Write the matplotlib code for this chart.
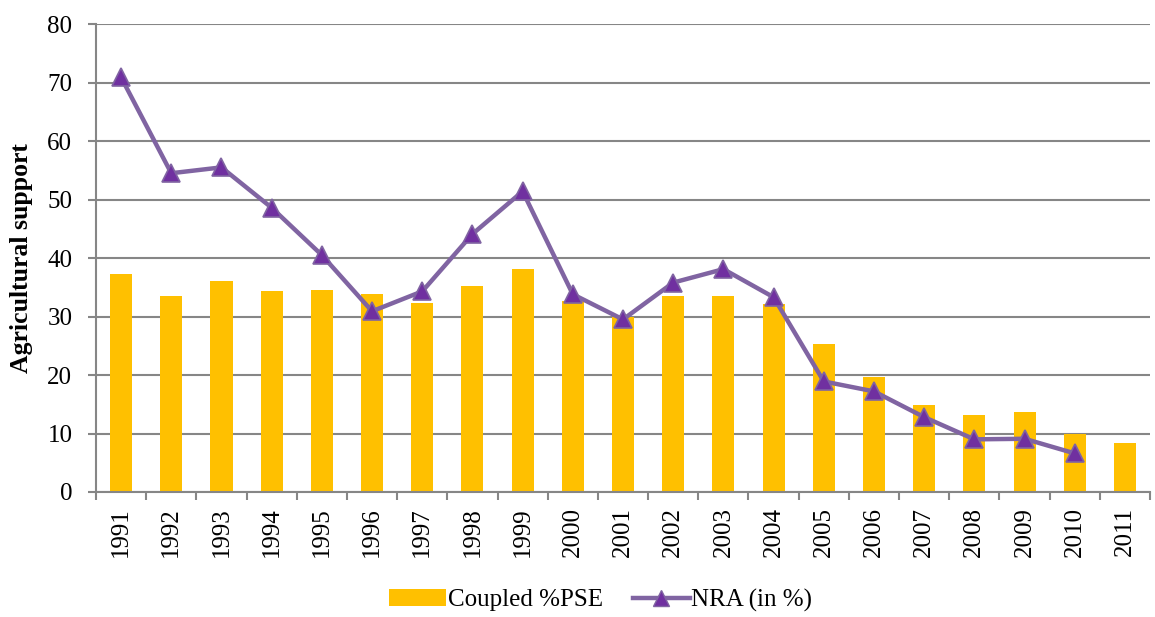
import matplotlib
matplotlib.use("Agg")
import matplotlib.pyplot as plt
import numpy as np
from matplotlib.lines import Line2D
from matplotlib.patches import Patch

years = [str(y) for y in range(1991, 2012)]
coupled_pse = [37.3, 33.5, 36.1, 34.4, 34.5, 33.9, 32.3, 35.3, 38.2, 32.6,
               29.9, 33.5, 33.5, 32.1, 25.3, 19.6, 14.9, 13.1, 13.6, 10.0, 8.3]
nra = [70.9, 54.5, 55.5, 48.6, 40.5, 30.9, 34.3, 44.1, 51.4, 33.8,
       29.5, 35.8, 38.1, 33.3, 18.9, 17.2, 12.8, 9.0, 9.1, 6.6]

plt.rcParams['font.family'] = ['Liberation Serif', 'DejaVu Serif']

fig = plt.figure(figsize=(11.55, 6.17), dpi=100)
ax = fig.add_axes([0.0831, 0.2026, 0.9126, 0.7584])

x = np.arange(len(years))
grid_c = '#868686'
ax.bar(x, coupled_pse, width=0.44, color='#FFC000', zorder=2)
ax.plot(x[:len(nra)], nra, color='#8064A2', lw=3.2, marker='^', ms=13,
        markerfacecolor='#7030A0', markeredgecolor='#8064A2', markeredgewidth=1.2, zorder=3)

ax.set_xlim(-0.5, len(years) - 0.5)
ax.set_ylim(0, 80)
ax.set_yticks(range(0, 81, 10))
ax.yaxis.grid(True, color=grid_c, lw=1.5, zorder=0)
ax.set_axisbelow(True)

ax.set_xticks(x)
ax.set_xticklabels(years, rotation=90, fontsize=18)
ax.tick_params(axis='x', length=0, pad=11)
ax.set_xticks(np.arange(-0.5, len(years), 1.0), minor=True)
ax.tick_params(axis='x', which='minor', length=6, color=grid_c, width=1.5)
ax.tick_params(axis='y', labelsize=18, length=6, color=grid_c, width=1.5, pad=11)

for s in ['top', 'right']:
    ax.spines[s].set_visible(False)
for s in ['left', 'bottom']:
    ax.spines[s].set_color(grid_c)
    ax.spines[s].set_linewidth(1.5)

ax.set_ylabel('Agricultural support', fontsize=18.5, fontweight='bold', labelpad=10)

handles = [Patch(facecolor='#FFC000', edgecolor='none'),
           Line2D([0], [0], color='#8064A2', lw=3.2, marker='^', ms=12,
                  markerfacecolor='#7030A0', markeredgecolor='#8064A2')]
fig.legend(handles, ['Coupled %PSE', 'NRA (in %)'], loc='center',
           bbox_to_anchor=(0.52, 0.027), ncol=2, frameon=False, fontsize=18,
           handlelength=2.3, handletextpad=0.05, columnspacing=1.2)

fig.savefig('out.png', dpi=100)
